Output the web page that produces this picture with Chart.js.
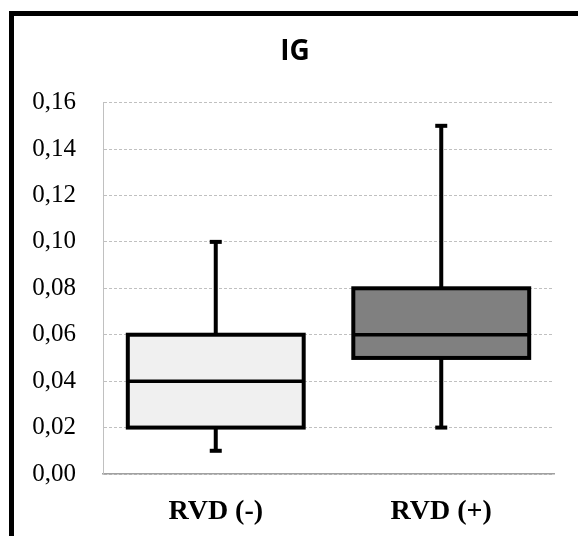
<!DOCTYPE html>
<html>
<head>
<meta charset="utf-8">
<script src="https://cdn.jsdelivr.net/npm/chart.js@4/dist/chart.umd.min.js"></script>
<style>
  html, body { margin: 0; padding: 0; background: #fff; }
  #wrap { position: relative; width: 578px; height: 536px; overflow: hidden; }
  #frame { position: absolute; left: 9px; top: 11px; width: 700px; height: 700px;
           border-top: 5px solid #000; border-left: 5px solid #000; pointer-events: none; }
  canvas { position: absolute; left: 0; top: 0; }
</style>
</head>
<body>
<div id="wrap">
  <!-- canvas a bit wider than the window so the title sits where the original has it -->
  <canvas id="c" width="614" height="536"></canvas>
  <div id="frame"></div>
</div>
<script>
// box plot data
var groups = ['RVD (-)', 'RVD (+)'];
var mins = [0.01, 0.02];
var q1s = [0.02, 0.05];
var medians = [0.04, 0.06];
var q3s = [0.06, 0.08];
var maxs = [0.10, 0.15];
var fills = ['#f0f0f0', '#808080'];

// whiskers under the boxes, outline + medians on top
var boxPlot = {
  id: 'boxPlot',
  beforeDatasetsDraw: function(chart) {
    var ctx = chart.ctx, y = chart.scales.y;
    var bars = chart.getDatasetMeta(0).data;
    ctx.save();
    ctx.strokeStyle = '#000';
    ctx.fillStyle = '#000';
    ctx.lineWidth = 4;
    bars.forEach(function(bar, i) {
      var x = bar.x;
      ctx.beginPath();
      ctx.moveTo(x, y.getPixelForValue(q3s[i]));
      ctx.lineTo(x, y.getPixelForValue(maxs[i]));
      ctx.moveTo(x, y.getPixelForValue(q1s[i]));
      ctx.lineTo(x, y.getPixelForValue(mins[i]));
      ctx.stroke();
      ctx.fillRect(x - 6, y.getPixelForValue(maxs[i]) - 2, 12, 4);
      ctx.fillRect(x - 6, y.getPixelForValue(mins[i]) - 2, 12, 4);
    });
    ctx.restore();
  },
  afterDatasetsDraw: function(chart) {
    var ctx = chart.ctx, y = chart.scales.y;
    var bars = chart.getDatasetMeta(0).data;
    ctx.save();
    ctx.strokeStyle = '#000';
    ctx.lineWidth = 4;
    bars.forEach(function(bar, i) {
      var l = bar.x - bar.width / 2, r = bar.x + bar.width / 2;
      var top = y.getPixelForValue(q3s[i]), bot = y.getPixelForValue(q1s[i]);
      ctx.strokeRect(l, top, r - l, bot - top);
      var py = y.getPixelForValue(medians[i]);
      ctx.lineWidth = 3.5;
      ctx.beginPath();
      ctx.moveTo(l, py);
      ctx.lineTo(r, py);
      ctx.stroke();
      ctx.lineWidth = 4;
    });
    ctx.restore();
  }
};

var whiteBg = {
  id: 'whiteBg',
  beforeDraw: function(chart) {
    var ctx = chart.ctx;
    ctx.save();
    ctx.fillStyle = '#fff';
    ctx.fillRect(0, 0, chart.width, chart.height);
    ctx.restore();
  }
};

new Chart(document.getElementById('c'), {
  type: 'bar',
  data: {
    labels: groups,
    datasets: [{
      data: groups.map(function(g, i) { return [q1s[i], q3s[i]]; }),
      backgroundColor: fills,
      borderWidth: 0,
      categoryPercentage: 1,
      barPercentage: 0.78
    }]
  },
  options: {
    responsive: false,
    animation: false,
    layout: { padding: { left: 0, right: 24, top: 0, bottom: 0 } },
    plugins: {
      legend: { display: false },
      tooltip: { enabled: false },
      title: {
        display: true,
        text: 'IG',
        color: '#000',
        font: { family: 'Open Sans', size: 28, weight: 'bold' },
        padding: { top: 35, bottom: 34 }
      }
    },
    scales: {
      x: {
        grid: { display: false },
        border: { color: '#a0a0a0', width: 1.5 },
        ticks: {
          color: '#000',
          padding: 13,
          font: { family: 'Liberation Serif', size: 28, weight: 'bold' }
        },
        afterFit: function(s) { s.height = 62; }
      },
      y: {
        min: 0,
        max: 0.16,
        grid: { color: '#c0c0c0', lineWidth: 1, drawTicks: false },
        border: { color: '#c0c0c0', width: 1, dash: [3, 2] },
        ticks: {
          stepSize: 0.02,
          color: '#000',
          padding: 27,
          font: { family: 'Liberation Serif', size: 25 },
          callback: function(v) { return v.toFixed(2).replace('.', ','); }
        },
        afterFit: function(s) { s.width = 103; }
      },
      // empty spacer on the right, keeps the plot where the original has it
      yRight: {
        position: 'right',
        grid: { display: false },
        border: { display: false },
        ticks: { display: false },
        afterFit: function(s) { s.width = 36; }
      }
    }
  },
  plugins: [whiteBg, boxPlot]
});
</script>
</body>
</html>
